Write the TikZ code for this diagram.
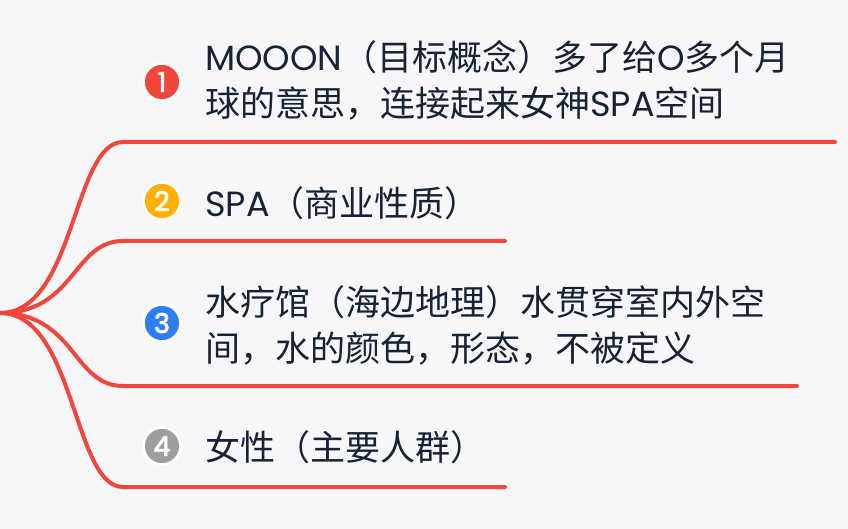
\documentclass[tikz,border=0pt]{standalone}
\usepackage{fontspec}
\setmainfont{Noto Sans CJK SC}
\newfontfamily\lat{Poppins}
\newfontfamily\latb[AutoFakeBold=3]{Poppins}
\definecolor{bg}{HTML}{F7F7F9}
\definecolor{branch}{HTML}{F0463C}
\definecolor{cred}{HTML}{F0463C}
\definecolor{cyellow}{HTML}{FFB000}
\definecolor{cblue}{HTML}{2C7EF2}
\definecolor{cgray}{HTML}{9E9E9E}
\definecolor{txt}{HTML}{172236}
\begin{document}
\begin{tikzpicture}[x=1pt,y=-1pt,
  branchline/.style={draw=branch,line width=4pt,line cap=round},
  badge/.style={circle,draw=white,line width=2.5pt,minimum size=37pt,inner sep=0pt,
    text=white,font=\latb\bfseries\fontsize{27}{27}\selectfont},
  label/.style={anchor=west,inner sep=0pt,align=left,text=txt,
    font=\fontsize{35}{46}\selectfont}]
\fill[bg] (0,0) rectangle (848,529);
\useasboundingbox (0,0) rectangle (848,529);
\coordinate (root) at (0,313);
\coordinate (s1) at (123,142); \coordinate (e1) at (835,142);
\coordinate (s2) at (123,241); \coordinate (e2) at (505,241);
\coordinate (s3) at (123,386); \coordinate (e3) at (797,386);
\coordinate (s4) at (123,487); \coordinate (e4) at (505,487);
\draw[branchline] (root) .. controls (75,313) and (73,142) .. (s1) -- (e1);
\draw[branchline] (root) .. controls (75,313) and (73,241) .. (s2) -- (e2);
\draw[branchline] (root) .. controls (75,313) and (73,386) .. (s3) -- (e3);
\draw[branchline] (root) .. controls (75,313) and (73,487) .. (s4) -- (e4);
\node[badge,fill=cred] (b1) at (162,82) {1};
\node[badge,fill=cyellow] (b2) at (162,201) {2};
\node[badge,fill=cblue] (b3) at (162,323) {3};
\node[badge,fill=cgray] (b4) at (162,446) {4};
\node[label] (t1) at (205,80) {{\lat MOOON}（目标概念）多了给{\lat O}多个月\\球的意思，连接起来女神{\lat SPA}空间};
\node[label] (t2) at (205,203) {{\lat SPA}（商业性质）};
\node[label] (t3) at (205,325) {水疗馆（海边地理）水贯穿室内外空\\间，水的颜色，形态，不被定义};
\node[label] (t4) at (205,447) {女性（主要人群）};
\end{tikzpicture}
\end{document}
